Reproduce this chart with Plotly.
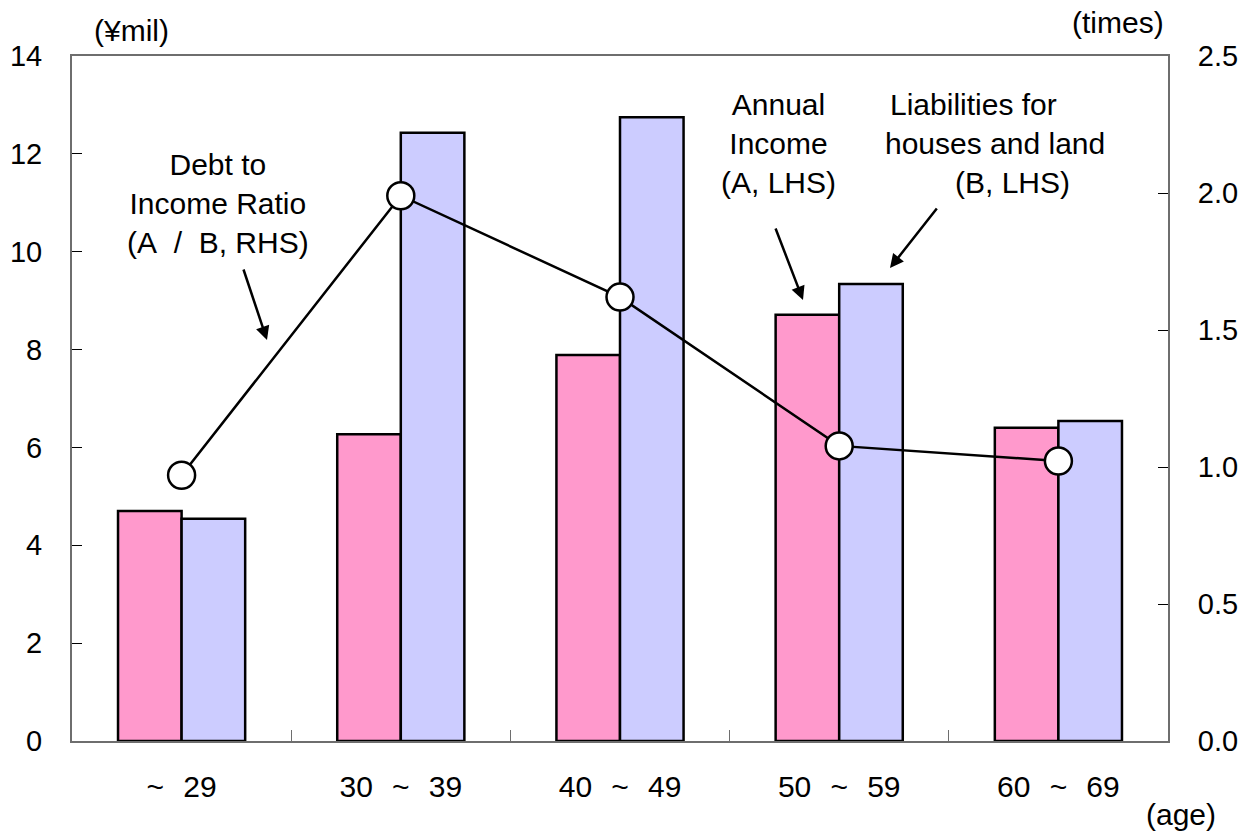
import plotly.graph_objects as go

# Household data by age group of the household head
SP = "\u00a0\u00a0\u200a"
age_groups = ["~" + SP + "29", "30" + SP + "~" + SP + "39", "40" + SP + "~" + SP + "49",
              "50" + SP + "~" + SP + "59", "60" + SP + "~" + SP + "69"]
annual_income = [4.70, 6.27, 7.89, 8.71, 6.40]          # A, ¥mil (LHS)
housing_liabilities = [4.54, 12.43, 12.75, 9.34, 6.54]  # B, ¥mil (LHS)
debt_income_ratio = [0.97, 1.99, 1.62, 1.077, 1.022]    # times (RHS)

left_ticks = [0, 2, 4, 6, 8, 10, 12, 14]
right_ticks = [0.0, 0.5, 1.0, 1.5, 2.0, 2.5]

FONT = "Liberation Sans, Arial, sans-serif"
AXIS_GREY = "#6e6e6e"

# Plot-area geometry in pixels (used to place call-outs)
L, R, T, B = 72, 72, 56, 92
W, H = 1240, 833
PW, PH = W - L - R, H - T - B


def px(x):
    return (x - L) / PW


def py(y):
    return (H - B - y) / PH


fig = go.Figure()

fig.add_trace(go.Bar(
    x=age_groups, y=annual_income, name="Annual Income",
    marker=dict(color="#FF99CC", line=dict(color="black", width=2.5)),
))
fig.add_trace(go.Bar(
    x=age_groups, y=housing_liabilities, name="Liabilities for houses and land",
    marker=dict(color="#CCCCFF", line=dict(color="black", width=2.5)),
))
fig.add_trace(go.Scatter(
    x=age_groups, y=debt_income_ratio, yaxis="y2", name="Debt to Income Ratio",
    mode="lines+markers",
    line=dict(color="black", width=2.5),
    marker=dict(symbol="circle", size=27, color="white",
                line=dict(color="black", width=2.5)),
))

fig.update_layout(
    width=W, height=H,
    margin=dict(l=L, r=R, t=T, b=B),
    paper_bgcolor="white", plot_bgcolor="white",
    showlegend=False,
    barmode="group", bargap=0.42, bargroupgap=0,
    font=dict(family=FONT, size=29, color="black"),
    xaxis=dict(
        type="category", automargin=False,
        showline=True, linecolor=AXIS_GREY, linewidth=2, mirror=True,
        ticks="inside", tickson="boundaries", ticklen=11, tickwidth=1,
        tickcolor=AXIS_GREY,
        tickfont=dict(size=30), ticklabelstandoff=18,
        showgrid=False, zeroline=False,
    ),
    yaxis=dict(
        range=[0, 14], tickvals=left_ticks, automargin=False,
        showline=True, linecolor=AXIS_GREY, linewidth=2,
        ticks="inside", ticklen=10, tickwidth=1, tickcolor="black",
        tickfont=dict(size=29), ticklabelstandoff=22,
        showgrid=False, zeroline=False,
    ),
    yaxis2=dict(
        range=[0, 2.5], tickvals=right_ticks, tickformat=".1f", automargin=False,
        overlaying="y", side="right",
        showline=True, linecolor=AXIS_GREY, linewidth=2,
        ticks="inside", ticklen=10, tickwidth=1, tickcolor="black",
        tickfont=dict(size=29), ticklabelstandoff=22,
        showgrid=False, zeroline=False,
    ),
)

ann_font = dict(family=FONT, size=30, color="black")


def label(x, y, text):
    fig.add_annotation(xref="paper", yref="paper", x=px(x), y=py(y),
                       xanchor="center", yanchor="middle",
                       text=text, showarrow=False, font=ann_font, align="center")


# Axis unit labels
label(131, 31, "(¥mil)")
label(1118, 22, "(times)")
label(1181, 814, "(age)")

# Series call-outs
label(218, 203, "Debt to<br>Income Ratio<br>(A\u00a0\u00a0/\u00a0\u00a0B, RHS)")
label(778, 143, "Annual<br>Income<br>(A, LHS)")
label(973, 105, "Liabilities for")
label(995, 143, "houses and land")
label(1012, 182, "(B, LHS)")

# Pointer arrows (tip position, tail offset in pixels)
arrows = [
    ((267, 340), (-24, -72)),
    ((803, 300), (-28, -73)),
    ((890, 268), (48, -61)),
]
for (tx, ty), (dx, dy) in arrows:
    fig.add_annotation(xref="paper", yref="paper", x=px(tx), y=py(ty),
                       ax=dx, ay=dy, axref="pixel", ayref="pixel",
                       text="", showarrow=True, arrowhead=2, arrowsize=1.1,
                       arrowwidth=2.5, arrowcolor="black")

fig.write_html("out.html")
